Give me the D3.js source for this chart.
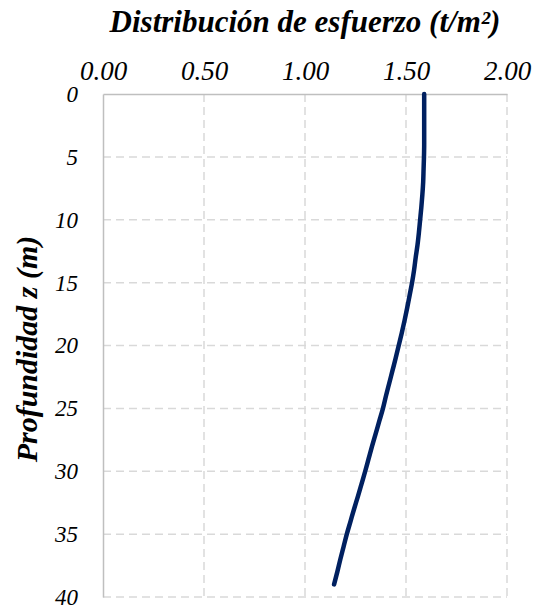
<!DOCTYPE html>
<html lang="es">
<head>
<meta charset="UTF-8">
<title>Distribución de esfuerzo</title>
<script src="https://d3js.org/d3.v7.min.js"></script>
<style>
  body { margin: 0; background: #fff; }
  svg text { font-family: "Liberation Serif", "Times New Roman", serif; font-style: italic; fill: #000; }
</style>
</head>
<body>
<svg id="chart" width="535" height="609"></svg>
<script>
// depth (m) and stress (t/m²)
const depth = [0, 1, 2, 3, 4, 5, 6, 7, 8, 9, 10, 11, 12, 13, 14, 15, 16, 17, 18, 19,
               20, 21, 22, 23, 24, 25, 26, 27, 28, 29, 30, 31, 32, 33, 34, 35, 36, 37, 38, 39];
const stress = [1.590, 1.590, 1.590, 1.590, 1.590, 1.589, 1.587, 1.585, 1.581, 1.576,
                1.570, 1.564, 1.557, 1.548, 1.540, 1.530, 1.518, 1.506, 1.493, 1.479,
                1.464, 1.449, 1.433, 1.417, 1.401, 1.386, 1.368, 1.350, 1.332, 1.315,
                1.298, 1.280, 1.262, 1.243, 1.225, 1.207, 1.191, 1.175, 1.160, 1.144];
const xTicks = [0, 0.5, 1.0, 1.5, 2.0];
const yTicks = [0, 5, 10, 15, 20, 25, 30, 35, 40];

const svg = d3.select('#chart');
const plotL = 103, plotR = 507, plotT = 94, plotB = 597;

const x = d3.scaleLinear().domain([0, 2]).range([plotL, plotR]);
const y = d3.scaleLinear().domain([0, 40]).range([plotT, plotB]);

// gridlines
svg.append('g').selectAll('line')
  .data(xTicks.filter(d => d > 0))
  .join('line')
  .attr('x1', d => x(d)).attr('x2', d => x(d))
  .attr('y1', plotT).attr('y2', plotB)
  .attr('stroke', '#d9d9d9').attr('stroke-width', 1.5).attr('stroke-dasharray', '8,5');

svg.append('g').selectAll('line')
  .data(yTicks.filter(d => d > 0))
  .join('line')
  .attr('x1', plotL).attr('x2', plotR)
  .attr('y1', d => y(d)).attr('y2', d => y(d))
  .attr('stroke', '#d9d9d9').attr('stroke-width', 1.5).attr('stroke-dasharray', '8,5');

// axes (top and left)
const xAxis = svg.append('g')
  .attr('transform', `translate(0,${plotT})`)
  .call(d3.axisTop(x).tickValues(xTicks).tickFormat(d3.format('.2f')).tickSize(0).tickPadding(14));
const yAxis = svg.append('g')
  .attr('transform', `translate(${plotL},0)`)
  .call(d3.axisLeft(y).tickValues(yTicks).tickSize(0).tickPadding(25));

[xAxis, yAxis].forEach(a => {
  a.select('.domain').attr('stroke', '#bfbfbf').attr('stroke-width', 1.5);
  a.selectAll('text').attr('font-family', '"Liberation Serif", serif').attr('fill', '#000');
});
xAxis.selectAll('text').attr('dy', 0).attr('font-size', 27);
yAxis.selectAll('text').attr('dy', '0.32em').attr('font-size', 23);

// curve
svg.append('path')
  .datum(depth.map((d, i) => [stress[i], d]))
  .attr('fill', 'none')
  .attr('stroke', '#002060')
  .attr('stroke-width', 4.5)
  .attr('stroke-linecap', 'round')
  .attr('stroke-linejoin', 'round')
  .attr('d', d3.line().x(d => x(d[0])).y(d => y(d[1])).curve(d3.curveMonotoneY));

// titles
svg.append('text')
  .attr('x', 305).attr('y', 32)
  .attr('text-anchor', 'middle')
  .attr('font-size', 31).attr('font-weight', 'bold')
  .text('Distribución de esfuerzo (t/m²)');

svg.append('text')
  .attr('transform', 'translate(37,349) rotate(-90)')
  .attr('text-anchor', 'middle')
  .attr('font-size', 30).attr('font-weight', 'bold')
  .text('Profundidad z (m)');
</script>
</body>
</html>
